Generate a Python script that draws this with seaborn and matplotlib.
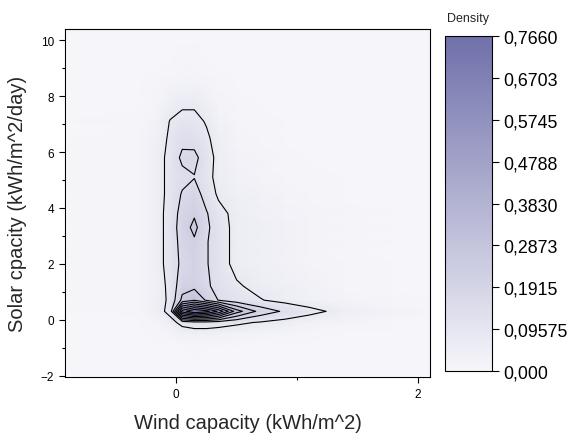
import numpy as np
import matplotlib
matplotlib.use("Agg")
import matplotlib.pyplot as plt
import seaborn as sns

# density grid (rows = solar, cols = wind)
wind = [-0.9, -0.3, -0.15, -0.05, 0.05, 0.15, 0.25, 0.35, 0.5, 0.7, 0.9, 1.1, 1.4, 1.8, 2.1]
solar = [-2.0, -1.0, -0.5, -0.1, 0.3, 0.7, 1.2, 2.0, 2.8, 3.3, 3.8, 4.5, 5.1, 5.8, 6.5, 7.1, 7.8, 8.5, 9.3, 10.4]
density = [
    [0, 0, 0, 0, 0, 0, 0, 0, 0, 0, 0, 0, 0, 0, 0],
    [0, 0, 0, 0.003, 0.005, 0.006, 0.005, 0.004, 0.003, 0.002, 0.001, 0, 0, 0, 0],
    [0, 0.002, 0.008, 0.02, 0.035, 0.04, 0.04, 0.035, 0.03, 0.022, 0.015, 0.01, 0.004, 0.001, 0],
    [0, 0.005, 0.02, 0.05, 0.10, 0.12, 0.12, 0.11, 0.09, 0.07, 0.05, 0.03, 0.015, 0.005, 0],
    [0, 0.01, 0.05, 0.10, 0.65, 0.766, 0.72, 0.60, 0.34, 0.20, 0.14, 0.10, 0.05, 0.025, 0.01],
    [0, 0.012, 0.05, 0.09, 0.25, 0.30, 0.22, 0.15, 0.11, 0.08, 0.055, 0.035, 0.018, 0.006, 0],
    [0, 0.012, 0.04, 0.10, 0.20, 0.21, 0.17, 0.12, 0.085, 0.055, 0.04, 0.028, 0.012, 0.004, 0],
    [0, 0.012, 0.05, 0.11, 0.17, 0.20, 0.16, 0.11, 0.055, 0.04, 0.03, 0.02, 0.008, 0.002, 0],
    [0, 0.012, 0.05, 0.11, 0.18, 0.22, 0.16, 0.11, 0.055, 0.04, 0.03, 0.02, 0.008, 0.002, 0],
    [0, 0.012, 0.05, 0.11, 0.19, 0.25, 0.17, 0.11, 0.055, 0.04, 0.028, 0.018, 0.007, 0.002, 0],
    [0, 0.012, 0.05, 0.11, 0.18, 0.22, 0.16, 0.10, 0.055, 0.038, 0.025, 0.015, 0.006, 0.002, 0],
    [0, 0.012, 0.05, 0.10, 0.16, 0.19, 0.12, 0.065, 0.04, 0.028, 0.018, 0.01, 0.004, 0.001, 0],
    [0, 0.012, 0.05, 0.10, 0.13, 0.150, 0.10, 0.055, 0.032, 0.02, 0.012, 0.007, 0.003, 0.001, 0],
    [0, 0.012, 0.05, 0.10, 0.17, 0.175, 0.11, 0.055, 0.025, 0.015, 0.009, 0.005, 0.002, 0, 0],
    [0, 0.01, 0.04, 0.09, 0.13, 0.12, 0.09, 0.045, 0.02, 0.01, 0.005, 0.003, 0.001, 0, 0],
    [0, 0.008, 0.03, 0.08, 0.10, 0.10, 0.07, 0.03, 0.012, 0.006, 0.003, 0.001, 0, 0, 0],
    [0, 0.005, 0.015, 0.04, 0.06, 0.06, 0.04, 0.015, 0.006, 0.003, 0.001, 0, 0, 0, 0],
    [0, 0.002, 0.006, 0.015, 0.025, 0.025, 0.015, 0.006, 0.002, 0.001, 0, 0, 0, 0, 0],
    [0, 0, 0.002, 0.004, 0.006, 0.006, 0.004, 0.002, 0, 0, 0, 0, 0, 0, 0],
    [0, 0, 0, 0, 0, 0, 0, 0, 0, 0, 0, 0, 0, 0, 0],
]
line_levels = [0.0766, 0.1532, 0.2298, 0.3064, 0.383, 0.4596, 0.5362, 0.6128, 0.6894]
cbar_ticks = [0.0, 0.09575, 0.1915, 0.2873, 0.383, 0.4788, 0.5745, 0.6703, 0.766]
cbar_labels = ["0,000", "0,09575", "0,1915", "0,2873", "0,3830", "0,4788", "0,5745", "0,6703", "0,7660"]

sns.set_style("white")
plt.rcParams["font.family"] = ["Liberation Sans", "DejaVu Sans"]

cmap = sns.blend_palette(["#f6f6fa", "#7070ab"], as_cmap=True)
Z = np.array(density)

fig = plt.figure(figsize=(5.74, 4.35), dpi=100)
ax = fig.add_axes([0.1132, 0.131, 0.636, 0.8])
cax = fig.add_axes([0.775, 0.1448, 0.082, 0.770])

mesh = ax.pcolormesh(wind, solar, Z, shading="gouraud", cmap=cmap, vmin=0, vmax=0.766)
ax.contour(wind, solar, Z, levels=line_levels, colors="black", linewidths=0.8)

ax.set_xlim(-0.92, 2.1)
ax.set_ylim(-2.05, 10.4)
ax.set_xticks([0, 2])
ax.set_xticks([1], minor=True)
ax.set_yticks([-2, 0, 2, 4, 6, 8, 10])
ax.set_yticks([-1, 1, 3, 5, 7, 9], minor=True)
ax.tick_params(which="both", direction="out", length=4, width=0.8, labelsize=8.5,
               bottom=True, left=True, colors="black", pad=4)
ax.tick_params(which="minor", length=2.5)
for s in ax.spines.values():
    s.set_color("black")
    s.set_linewidth(0.8)
ax.set_xlabel("Wind capacity (kWh/m^2)", fontsize=14.5, labelpad=9)
ax.set_ylabel("Solar cpacity (kWh/m^2/day)", fontsize=14.5, labelpad=10)

cb = fig.colorbar(mesh, cax=cax, ticks=cbar_ticks)
cb.ax.set_yticklabels(cbar_labels)
cb.ax.tick_params(direction="out", length=5, width=0.8, labelsize=12.8, right=True,
                  colors="black", pad=3)
cb.outline.set_edgecolor("black")
cb.outline.set_linewidth(0.8)
cb.ax.set_title("Density", fontsize=9, pad=11)

fig.savefig("out.png", dpi=100)
